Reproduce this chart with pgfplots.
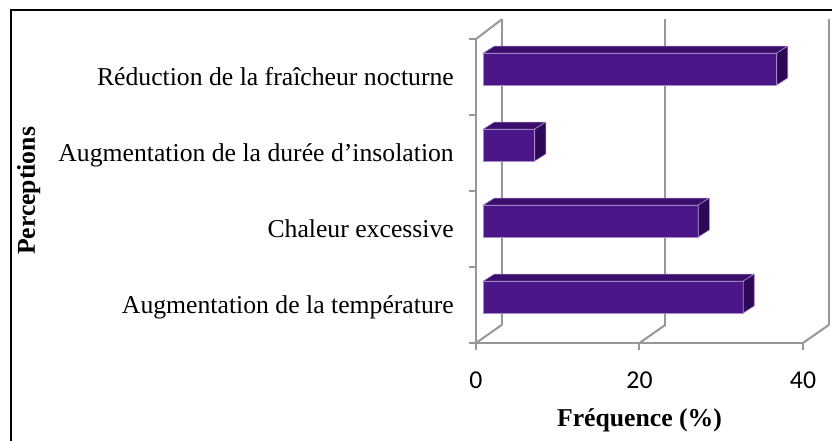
\documentclass[border=0pt]{standalone}
\usepackage{pgfplots}
\pgfplotsset{compat=1.18}
\usepackage{fontspec}
\setmainfont{Liberation Serif}
\newfontfamily\carlito{Carlito}
\definecolor{barfront}{HTML}{4A1688}
\definecolor{bartop}{HTML}{3A0F6C}
\definecolor{barside}{HTML}{2C0856}
\definecolor{baredge}{HTML}{A98BCB}
\definecolor{gridgray}{HTML}{979797}
\begin{document}
\begin{tikzpicture}
\path[use as bounding box] (-476pt,-98pt) rectangle (356pt,343pt);
\begin{axis}[
  x=8.175pt, y=76pt,
  xmin=-0.89, xmax=39.11, ymin=-0.5, ymax=3.5,
  clip=false,
  axis x line*=bottom, axis y line*=left,
  axis line style={gridgray, line width=2pt},
  tick align=outside, major tick length=7pt,
  tick style={gridgray, line width=2pt},
  xtick={-0.89,19.11,39.11}, xticklabels={0,20,40},
  xticklabel style={font=\carlito\fontsize{25.7}{28}\selectfont, anchor=base, inner sep=0pt, yshift=-38pt},
  ytick={-0.5,0.5,1.5,2.5,3.5}, yticklabels={},
  extra y ticks={0,1,2,3},
  extra y tick labels={Augmentation de la température, Chaleur excessive\hspace{6pt}, Augmentation de la durée d’insolation\hspace{6pt}, Réduction de la fraîcheur nocturne},
  extra y tick style={tick style={draw=none}, yticklabel style={font=\fontsize{25.7}{28}\selectfont, anchor=base east, inner sep=0pt, yshift=-9pt, xshift=-15pt}},
  xlabel={Fréquence (\%)},
  xlabel style={font=\bfseries\fontsize{25.7}{28}\selectfont, at={(axis description cs:0.5,-0.253)}, anchor=center},
  ylabel={Perceptions},
  ylabel style={font=\bfseries\fontsize{25.7}{28}\selectfont, at={(axis description cs:-1.368,0.5)}, anchor=center},
]
% 3D frame: back wall and floor
\draw[gridgray, line width=2pt] (axis cs:2.29,-0.26) -- (axis cs:2.29,3.76);
\draw[gridgray, line width=2pt] (axis cs:22.29,-0.26) -- (axis cs:22.29,3.76);
\draw[gridgray, line width=2pt] (axis cs:42.29,-0.26) -- (axis cs:42.29,3.76);
\draw[gridgray, line width=2pt] (axis cs:-0.89,-0.5) -- (axis cs:2.29,-0.26);
\draw[gridgray, line width=2pt] (axis cs:19.11,-0.5) -- (axis cs:22.29,-0.26);
\draw[gridgray, line width=2pt] (axis cs:39.11,-0.5) -- (axis cs:42.29,-0.26);
\draw[gridgray, line width=2pt] (axis cs:-0.89,3.5) -- (axis cs:2.29,3.76);
% front faces
\addplot[xbar, bar width=0.42, bar shift=0.105, fill=barfront, draw=baredge, line width=0.6pt]
  coordinates {(31.8,0) (26.3,1) (6.3,2) (35.9,3)};
% top faces
\addplot[fill=bartop, draw=baredge, line width=0.6pt] coordinates {(0,0.315) (31.8,0.315) (33.15,0.407) (1.35,0.407)} -- cycle;
\addplot[fill=bartop, draw=baredge, line width=0.6pt] coordinates {(0,1.315) (26.3,1.315) (27.65,1.407) (1.35,1.407)} -- cycle;
\addplot[fill=bartop, draw=baredge, line width=0.6pt] coordinates {(0,2.315) (6.3,2.315) (7.65,2.407) (1.35,2.407)} -- cycle;
\addplot[fill=bartop, draw=baredge, line width=0.6pt] coordinates {(0,3.315) (35.9,3.315) (37.25,3.407) (1.35,3.407)} -- cycle;
% side faces
\addplot[fill=barside, draw=baredge, line width=0.6pt] coordinates {(31.8,-0.105) (31.8,0.315) (33.15,0.407) (33.15,-0.013)} -- cycle;
\addplot[fill=barside, draw=baredge, line width=0.6pt] coordinates {(26.3,0.895) (26.3,1.315) (27.65,1.407) (27.65,0.987)} -- cycle;
\addplot[fill=barside, draw=baredge, line width=0.6pt] coordinates {(6.3,1.895) (6.3,2.315) (7.65,2.407) (7.65,1.987)} -- cycle;
\addplot[fill=barside, draw=baredge, line width=0.6pt] coordinates {(35.9,2.895) (35.9,3.315) (37.25,3.407) (37.25,2.987)} -- cycle;
\end{axis}
\draw[black, line width=2pt] (-465pt,-110pt) -- (-465pt,333pt) -- (370pt,333pt);
\end{tikzpicture}
\end{document}
